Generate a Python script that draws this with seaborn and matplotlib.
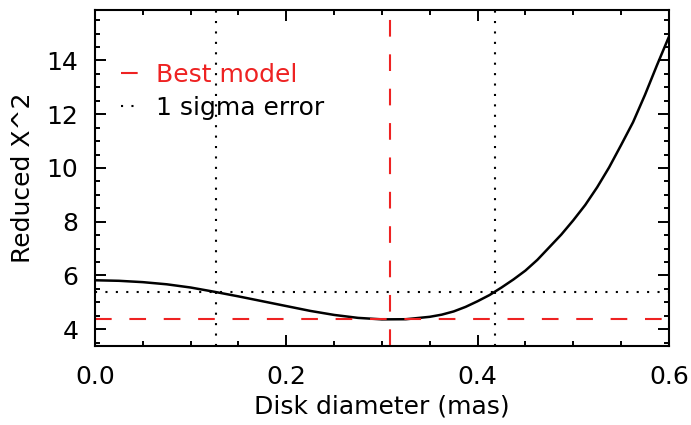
import numpy as np
import pandas as pd
import matplotlib
matplotlib.use("Agg")
import matplotlib.pyplot as plt
from matplotlib.lines import Line2D
from matplotlib.ticker import MultipleLocator
import seaborn as sns

# Reduced chi-square versus uniform disk diameter
diameter = [0.000, 0.025, 0.050, 0.075, 0.100, 0.125, 0.150, 0.175, 0.200,
            0.225, 0.250, 0.275, 0.300, 0.325, 0.350, 0.3625, 0.375, 0.3875,
            0.400, 0.4125, 0.425, 0.4375, 0.450, 0.4625, 0.475, 0.4875,
            0.500, 0.5125, 0.525, 0.5375, 0.550, 0.5625, 0.575, 0.5875, 0.600]
chi2 = [5.82, 5.80, 5.75, 5.67, 5.55, 5.39, 5.22, 5.04, 4.86,
        4.68, 4.53, 4.42, 4.365, 4.37, 4.46, 4.54, 4.66, 4.83,
        5.04, 5.27, 5.55, 5.85, 6.18, 6.58, 7.05, 7.52,
        8.05, 8.62, 9.28, 10.02, 10.85, 11.70, 12.72, 13.82, 14.88]

best_diameter = 0.308
sigma_low, sigma_high = 0.127, 0.418
chi2_min = 4.37
chi2_sigma = chi2_min + 1.0

x_ticks = [0.0, 0.2, 0.4, 0.6]
y_ticks = [4, 6, 8, 10, 12, 14]

df = pd.DataFrame({"diameter": diameter, "chi2": chi2})

sns.set_style("ticks")
plt.rcParams["font.family"] = ["DejaVu Sans"]
plt.rcParams["text.color"] = "black"
plt.rcParams["axes.labelcolor"] = "black"
FS = 18

fig = plt.figure(figsize=(6.91, 4.25), dpi=100)
ax = fig.add_axes([0.1375, 0.1866, 0.8305, 0.79])

sns.lineplot(data=df, x="diameter", y="chi2", ax=ax, color="black",
             linewidth=1.8, estimator=None, sort=False)

red = "#ee2222"
dash_style = dict(color=red, linewidth=1.5, dashes=(8, 8.5))
dot_style = dict(color="black", linewidth=1.5, dashes=(1, 4))

ax.axvline(best_diameter, **dash_style)
ax.axhline(chi2_min, **dash_style)
ax.axvline(sigma_low, **dot_style)
ax.axvline(sigma_high, **dot_style)
ax.axhline(chi2_sigma, **dot_style)

ax.set_xlim(0.0, 0.6)
ax.set_ylim(min(chi2) - 0.98, max(chi2) + 1.0)
ax.set_xticks(x_ticks)
ax.set_xticklabels([f"{v:.1f}" for v in x_ticks])
ax.set_yticks(y_ticks)
ax.set_yticklabels([str(v) for v in y_ticks])
ax.xaxis.set_minor_locator(MultipleLocator(0.05))
ax.yaxis.set_minor_locator(MultipleLocator(0.5))

ax.tick_params(which="both", direction="in", top=True, right=True,
               width=1.4, labelsize=FS, color="black", labelcolor="black")
ax.tick_params(axis="x", which="major", length=8, pad=14)
ax.tick_params(axis="y", which="major", length=8, pad=12)
ax.tick_params(which="minor", length=3.6)
for s in ax.spines.values():
    s.set_linewidth(1.5)
    s.set_color("black")

ax.set_xlabel("Disk diameter (mas)", fontsize=FS, labelpad=4)
ax.set_ylabel("Reduced X^2", fontsize=FS, labelpad=8)

handles = [Line2D([], [], color=red, linewidth=1.5, dashes=(8, 8.5)),
           Line2D([], [], color="black", linewidth=1.5, dashes=(1, 4))]
leg = ax.legend(handles, ["Best model", "1 sigma error"], loc="upper left",
                bbox_to_anchor=(0.027, 0.872), frameon=False, fontsize=FS,
                handlelength=0.75, handletextpad=0.65, labelspacing=0.35,
                borderaxespad=0)
leg.get_texts()[0].set_color(red)
leg.get_texts()[1].set_color("black")

fig.savefig("out.png", dpi=100, facecolor="white")
